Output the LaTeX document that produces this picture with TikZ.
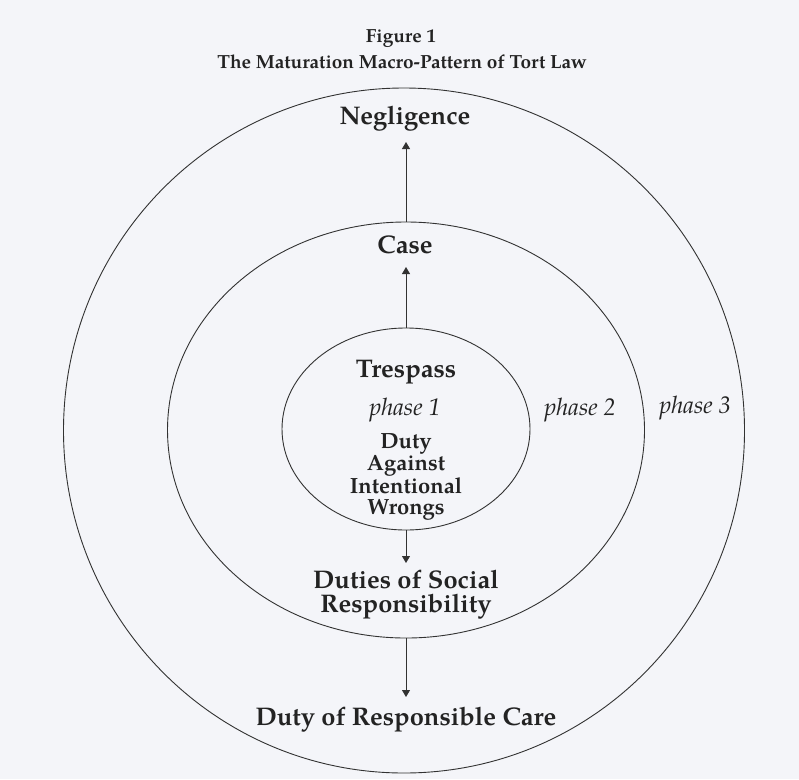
\documentclass[tikz,border=0pt]{standalone}
\usepackage{fontspec}
\setmainfont{TeX Gyre Pagella}
\usetikzlibrary{shapes.geometric,arrows.meta}
\definecolor{paper}{RGB}{244,245,249}
\definecolor{ink}{RGB}{35,35,35}
\definecolor{linec}{RGB}{50,50,50}
\tikzset{
  ring/.style={draw=linec, line width=0.9pt, ellipse, inner sep=0pt},
  lab/.style={text=ink, anchor=base, inner sep=0pt, font=\bfseries\fontsize{25.5}{24}\selectfont},
  small/.style={text=ink, align=center, inner sep=0pt, font=\bfseries\fontsize{22}{20.8}\selectfont},
  ph/.style={text=ink, anchor=base, inner sep=0pt, font=\itshape\fontsize{24}{24}\selectfont},
  ttl/.style={text=ink, anchor=base, inner sep=0pt, font=\bfseries\fontsize{19}{22}\selectfont},
  arr/.style={draw=linec, line width=0.9pt, -{Triangle[length=7pt,width=8pt]}}
}
\begin{document}
\begin{tikzpicture}[x=1pt,y=-1pt]
\fill[paper] (0,0) rectangle (799,779);
\useasboundingbox (0,0) rectangle (799,779);
% rings
\node[ring, minimum width=681pt, minimum height=685pt] (outer) at (404,430.5) {};
\node[ring, minimum width=477pt, minimum height=416pt] (middle) at (406,430) {};
\node[ring, minimum width=248pt, minimum height=202pt] (inner) at (406,429) {};
% title
\node[ttl] (fig) at (401,42) {Figure 1};
\node[ttl] (title) at (402,68) {The Maturation Macro-Pattern of Tort Law};
% labels
\node[lab] (neg) at (405,124) {Negligence};
\node[lab] (case) at (405,253) {Case};
\node[lab] (tres) at (406,377) {Trespass};
\node[ph] (ph1) at (405,415) {phase 1};
\node[ph] (ph2) at (580,415) {phase 2};
\node[ph] (ph3) at (695,413) {phase 3};
\node[small] (duty) at (406,477) {Duty\\Against\\Intentional\\Wrongs};
\node[lab, align=center] (soc) at (406,612) {Duties of Social\\Responsibility};
\node[lab] (care) at (406,725) {Duty of Responsible Care};
% arrows
\coordinate (t1) at (406,142);
\coordinate (t2) at (406,267);
\coordinate (t3) at (406,563);
\coordinate (t4) at (406,697);
\draw[arr] (middle.north) -- (t1);
\draw[arr] (inner.north) -- (t2);
\draw[arr] (inner.south) -- (t3);
\draw[arr] (middle.south) -- (t4);
\end{tikzpicture}
\end{document}
